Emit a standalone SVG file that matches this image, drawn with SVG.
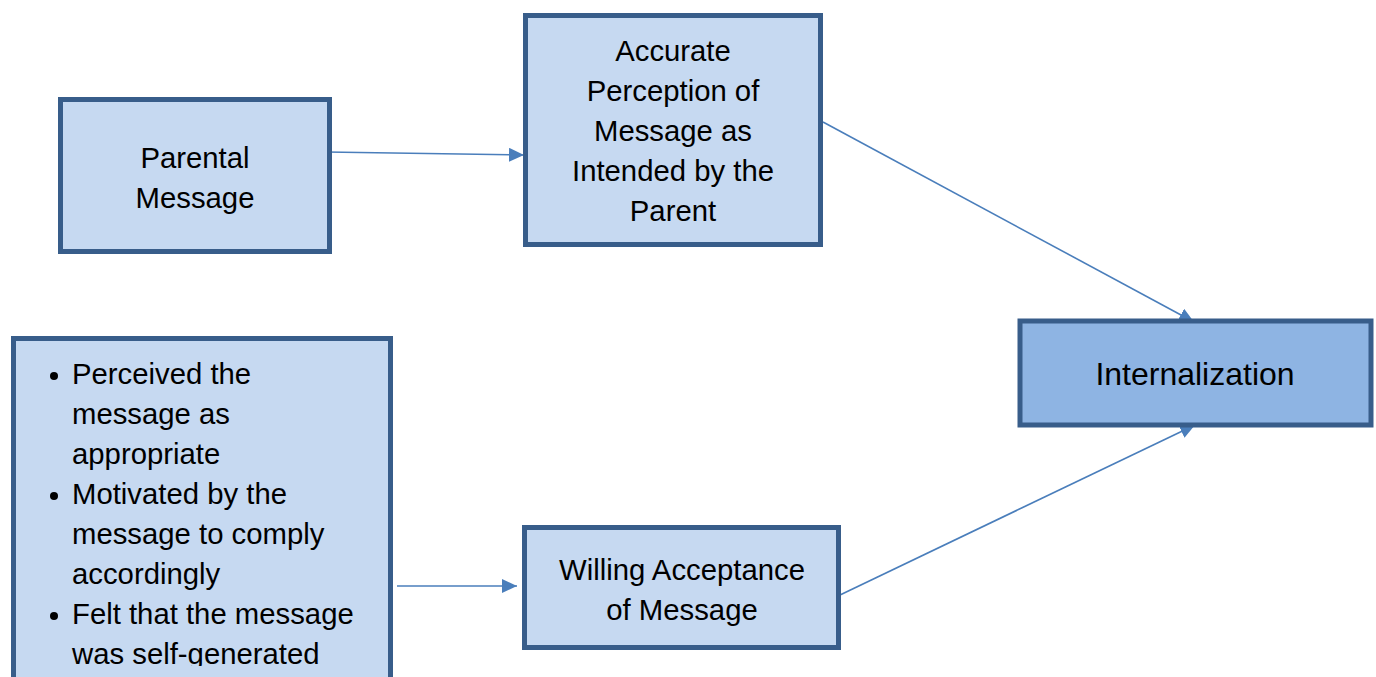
<svg xmlns="http://www.w3.org/2000/svg" width="1376" height="677" viewBox="0 0 1376 677">
<style>
.box{fill:#c6d9f1;stroke:#385d8a;stroke-width:5}
.dark{fill:#8eb4e3}
text{font-family:"Liberation Sans",Arial,sans-serif;font-size:29.3px;fill:#000}
.c{text-anchor:middle}
.conn{stroke:#4a7ebb;stroke-width:1.6;fill:none;marker-end:url(#ah)}
</style>
<defs>
<marker id="ah" markerUnits="userSpaceOnUse" markerWidth="16" markerHeight="14" refX="15" refY="7" orient="auto">
<path d="M0,0 L15,7 L0,14 z" fill="#4a7ebb"/>
</marker>
<clipPath id="clipb"><rect x="16" y="341" width="372" height="325"/></clipPath>
</defs>
<rect width="1376" height="677" fill="#fff"/>
<g id="connectors">
<line class="conn" x1="326" y1="152" x2="524" y2="155"/>
<line class="conn" x1="823" y1="122" x2="1194" y2="322"/>
<line class="conn" x1="840" y1="595" x2="1195" y2="425"/>
<line class="conn" x1="397" y1="586" x2="517" y2="586"/>
</g>
<g id="parental">
<rect class="box" x="60.5" y="99.5" width="269" height="152"/>
<text class="c" x="195" y="168">Parental</text>
<text class="c" x="195" y="208">Message</text>
</g>
<g id="accurate">
<rect class="box" x="525.5" y="15.5" width="295" height="229"/>
<text class="c" x="673" y="61">Accurate</text>
<text class="c" x="673" y="101">Perception of</text>
<text class="c" x="673" y="141">Message as</text>
<text class="c" x="673" y="181">Intended by the</text>
<text class="c" x="673" y="221">Parent</text>
</g>
<g id="internalization">
<rect class="box dark" x="1020" y="321" width="351" height="104"/>
<text class="c" x="1195" y="385" style="font-size:32px">Internalization</text>
</g>
<g id="conditions">
<rect class="box" x="13.5" y="338.5" width="377" height="400"/>
<g clip-path="url(#clipb)">
<circle cx="54" cy="376" r="4" fill="#000"/>
<circle cx="54" cy="496" r="4" fill="#000"/>
<circle cx="54" cy="616" r="4" fill="#000"/>
<text x="72" y="384">Perceived the</text>
<text x="72" y="424">message as</text>
<text x="72" y="464">appropriate</text>
<text x="72" y="504">Motivated by the</text>
<text x="72" y="544">message to comply</text>
<text x="72" y="584">accordingly</text>
<text x="72" y="624">Felt that the message</text>
<text x="72" y="664">was self-generated</text>
</g>
</g>
<g id="willing">
<rect class="box" x="524.5" y="527.5" width="314" height="120"/>
<text class="c" x="682" y="580">Willing Acceptance</text>
<text class="c" x="682" y="620">of Message</text>
</g>
</svg>
